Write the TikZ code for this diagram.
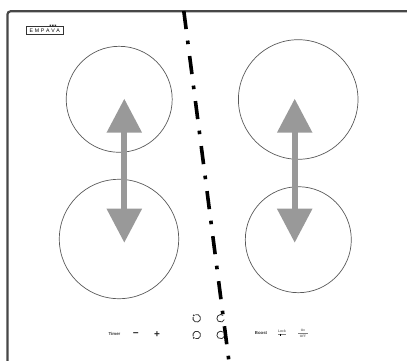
\documentclass[tikz,border=0pt]{standalone}
\usepackage{fontspec}
\setmainfont{Liberation Sans}
\usetikzlibrary{arrows.meta}

\begin{document}
\begin{tikzpicture}[x=1pt,y=-1pt,
  burner/.style={circle,draw=black!65,line width=0.7pt,inner sep=0pt},
  edgeline/.style={draw=black!72,line width=2.2pt,line cap=butt},
  move/.style={draw=black!40,line width=5.7pt,
    {Triangle[length=34pt,width=34pt]}-{Triangle[length=34pt,width=34pt]}},
  cut/.style={draw=black,line width=3.6pt,dash pattern=on 18.2pt off 11.6pt on 3.6pt off 12pt},
  ring/.style={circle,inner sep=0pt,minimum size=7.6pt},
  ringline/.style={draw=black!80,line width=0.8pt},
  key/.style={inner sep=0pt,font=\fontsize{4.3}{4.3}\selectfont\bfseries,text=black!80},
  sign/.style={inner sep=0pt,font=\fontsize{10}{10}\selectfont\bfseries,text=black!85}]

\useasboundingbox (0,0) rectangle (407,361);

% outline of the hob
\coordinate (edgeBL) at (7.5,361);
\coordinate (edgeTL) at (7.5,11.3);
\coordinate (edgeTR) at (407,11.3);
\draw[edgeline,rounded corners=3pt] (edgeBL) -- (edgeTL) -- (edgeTR);

% logo
\node[draw=black!80,line width=0.6pt,inner sep=0pt,minimum width=37pt,minimum height=7.4pt,
  font=\fontsize{5.2}{5.2}\selectfont] (logo) at (44.8,30.4) {E\,\,M\,\,P\,\,A\,\,V\,\,A};
\fill[black!80] (49.5,24.6) rectangle +(1.6,1.2) (52,24.6) rectangle +(1.6,1.2) (54.5,24.6) rectangle +(1.6,1.2);

% burners
\node[burner,minimum size=106pt] (burnerTL) at (119.2,99.3) {};
\node[burner,minimum size=119.4pt] (burnerBL) at (119,239) {};
\node[burner,minimum size=119.6pt] (burnerTR) at (298.2,99.5) {};
\node[burner,minimum size=106pt] (burnerBR) at (298.3,239.7) {};

% bridge arrows
\coordinate (moveLT) at (124.3,98.7);
\coordinate (moveLB) at (124.3,242.7);
\coordinate (moveRT) at (294.7,98.7);
\coordinate (moveRB) at (294.7,242.7);
\draw[move] (moveLT) -- (moveLB);
\draw[move] (moveRT) -- (moveRB);

% controls
\node[key] (timer) at (114.5,333.5) {Timer};
\node[sign] (minus) at (135.7,335) {\textminus};
\node[sign] (plus) at (157,335) {+};
\node[ring] (ringA) at (196.7,318.3) {};
\node[ring] (ringB) at (196.7,335) {};
\node[ring] (ringC) at (220.7,318.3) {};
\node[ring] (ringD) at (220.7,335) {};
\draw[ringline] (ringA) ++(-110:3.8) arc[start angle=-110,end angle=200,radius=3.8];
\draw[ringline] (ringB) ++(110:3.8) arc[start angle=110,end angle=-200,radius=3.8];
\draw[ringline] (ringC) ++(-50:3.8) arc[start angle=-50,end angle=-340,radius=3.8];
\draw[ringline] (ringD) ++(-50:3.8) arc[start angle=-50,end angle=-340,radius=3.8];
\fill[black!80] (ringA) ++(-2.9,-2.9) circle (1pt);
\fill[black!80] (ringB) ++(-2.9,2.9) circle (1pt);
\node[key] (boost) at (261,333.5) {Boost};
\node[key,font=\fontsize{3.6}{3.6}\selectfont] (lock) at (282,331.6) {Lock};
\node[key,font=\fontsize{3.2}{3.2}\selectfont] (on) at (303,330.8) {On};
\node[key,font=\fontsize{3.2}{3.2}\selectfont] (off) at (303,336.2) {OFF};
\coordinate (lockL) at (278,334.4);
\coordinate (lockR) at (286,334.4);
\coordinate (onL) at (298,333.5);
\coordinate (onR) at (308,333.5);
\draw[black!50,line width=0.5pt] (lockL) -- (lockR);
\draw[black,line width=0.8pt] (280,333.6) -- (280,335.8);
\draw[black!50,line width=0.5pt] (onL) -- (onR);

% dividing line
\coordinate (cutT) at (183.8,11);
\coordinate (cutB) at (228.9,361);
\draw[cut] (cutT) -- (cutB);

\end{tikzpicture}
\end{document}
